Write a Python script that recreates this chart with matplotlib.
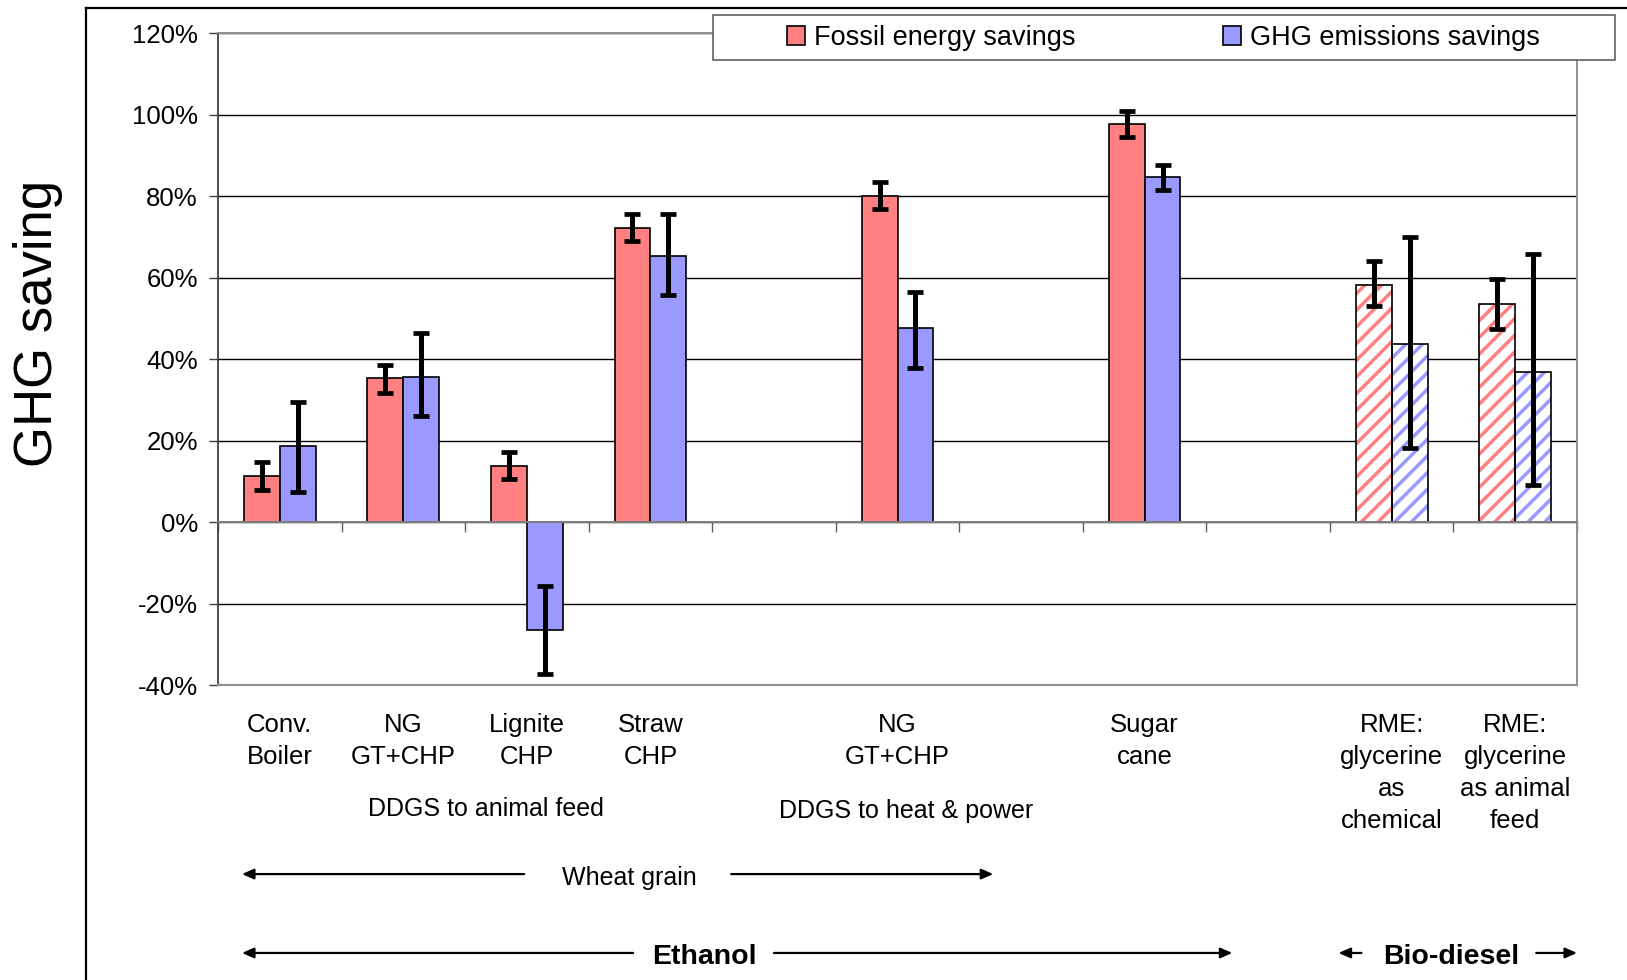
import numpy as np
import matplotlib
matplotlib.use('Agg')
import matplotlib.pyplot as plt
import matplotlib.transforms as mtransforms
from matplotlib.patches import Rectangle
from matplotlib.lines import Line2D

plt.rcParams['font.family'] = ['Liberation Sans', 'DejaVu Sans']
plt.rcParams['hatch.linewidth'] = 2.5

# categories (empty strings are the gaps between groups)
categories = ['Conv.\nBoiler', 'NG\nGT+CHP', 'Lignite\nCHP', 'Straw\nCHP', '',
              'NG\nGT+CHP', '', 'Sugar\ncane', '',
              'RME:\nglycerine\nas\nchemical', 'RME:\nglycerine\nas animal\nfeed']
nan = np.nan
fossil = [11.4, 35.3, 13.8, 72.2, nan, 80.0, nan, 97.6, nan, 58.2, 53.4]
fossil_low = [7.9, 31.6, 10.6, 68.9, nan, 76.9, nan, 94.4, nan, 53.0, 47.4]
fossil_high = [14.7, 38.6, 17.1, 75.6, nan, 83.4, nan, 100.9, nan, 64.0, 59.6]
ghg = [18.6, 35.7, -26.6, 65.3, nan, 47.5, nan, 84.6, nan, 43.7, 36.8]
ghg_low = [7.3, 25.9, -37.3, 55.6, nan, 37.7, nan, 81.4, nan, 18.2, 9.0]
ghg_high = [29.4, 46.3, -15.8, 75.5, nan, 56.4, nan, 87.6, nan, 70.0, 65.7]
yticks = [-40, -20, 0, 20, 40, 60, 80, 100, 120]
series_names = ['Fossil energy savings', 'GHG emissions savings']

# styling
red = '#FF8080'
blue = '#9999FF'
hatched = [9, 10]  # RME bars drawn with stripes
w = 0.29

fig = plt.figure(figsize=(16.27, 9.80), dpi=100)
ax = fig.add_axes([218 / 1627, 1 - 685 / 980, (1577 - 218) / 1627, (685 - 33) / 980])

x = np.arange(len(categories))
trans = mtransforms.blended_transform_factory(ax.transData, ax.transAxes)


def draw_series(vals, low, high, offset, color):
    vals = np.array(vals)
    low = np.array(low)
    high = np.array(high)
    ok = ~np.isnan(vals)
    xs = x[ok] + offset
    bars = ax.bar(xs, vals[ok], w, color=color, edgecolor='black', linewidth=1.2, zorder=2)
    for idx, b in zip(x[ok], bars):
        if idx in hatched:
            b.set_facecolor('white')
            b.set_edgecolor(color)
            b.set_hatch('//')
            b.set_linewidth(0)
            ax.bar(b.get_x() + w / 2, b.get_height(), w, fill=False,
                   edgecolor='black', linewidth=1.2, zorder=2.5)
    ax.errorbar(xs, vals[ok], yerr=[vals[ok] - low[ok], high[ok] - vals[ok]],
                fmt='none', ecolor='black', elinewidth=3.6, capsize=6, capthick=3.4, zorder=3)


draw_series(fossil, fossil_low, fossil_high, -w / 2, red)
draw_series(ghg, ghg_low, ghg_high, w / 2, blue)

ax.set_xlim(-0.5, len(categories) - 0.5)
ax.set_ylim(-40, 120)
ax.set_yticks(yticks)
ax.set_yticklabels([f'{v}%' for v in yticks], fontsize=18.5)
ax.set_xticks(np.arange(-0.5, len(categories)))
ax.set_xticklabels([])
ax.tick_params(axis='y', direction='out', length=6.5, width=1, pad=8, color='#404040')
ax.tick_params(axis='x', direction='out', length=7, width=1, color='#606060')
ax.yaxis.grid(True, color='black', linewidth=1)
ax.set_axisbelow(True)

ax.spines['bottom'].set_position(('data', 0))
ax.spines['bottom'].set_color('#808080')
ax.spines['bottom'].set_linewidth(1.4)
ax.spines['left'].set_color('#404040')
ax.spines['left'].set_linewidth(1.3)
ax.spines['right'].set_color('#909090')
ax.spines['right'].set_linewidth(1.4)
ax.spines['top'].set_color('#909090')
ax.spines['top'].set_linewidth(1.4)
ax.plot([0, 1], [0, 0], transform=ax.transAxes, color='#909090', lw=1.6,
        clip_on=False, zorder=4)

# category labels
for i, lab in enumerate(categories):
    ax.text(i, -0.0425, lab, transform=trans, ha='center', va='top',
            fontsize=18.5, linespacing=1.42)

ax.text(1.67, -0.19, 'DDGS to animal feed', transform=trans, ha='center', va='center', fontsize=18)
ax.text(5.07, -0.193, 'DDGS to heat & power', transform=trans, ha='center', va='center', fontsize=18)
ax.text(2.83, -0.296, 'Wheat grain', transform=trans, ha='center', va='center', fontsize=18)
ax.text(3.44, -0.417, 'Ethanol', transform=trans, ha='center', va='center',
        fontsize=20.5, fontweight='bold')
ax.text(9.48, -0.417, 'Bio-diesel', transform=trans, ha='center', va='center',
        fontsize=20.5, fontweight='bold')


def arrow(x0, x1, y):
    ax.annotate('', xy=(x1, y), xytext=(x0, y), xycoords=trans, textcoords=trans,
                arrowprops=dict(arrowstyle='-|>,head_length=0.5,head_width=0.22',
                                color='black', lw=1.6, mutation_scale=14,
                                shrinkA=0, shrinkB=0),
                annotation_clip=False)


arrow(1.978, -0.306, -0.290)
arrow(3.654, 5.775, -0.290)
arrow(2.86, -0.306, -0.411)
arrow(4.0, 7.71, -0.411)
arrow(8.755, 8.57, -0.411)
arrow(10.17, 10.5, -0.411)

# y label
fig.text(38.5 / 1627, 1 - 323 / 980, 'GHG saving', rotation=90, fontsize=38,
         ha='center', va='center')

# outer frame
fig.add_artist(Line2D([86 / 1627, 86 / 1627], [0, 1 - 8 / 980], color='black', lw=1.6,
                      transform=fig.transFigure))
fig.add_artist(Line2D([86 / 1627, 1], [1 - 8 / 980, 1 - 8 / 980], color='black', lw=1.6,
                      transform=fig.transFigure))

# legend
fig.add_artist(Rectangle((713 / 1627, 1 - 60 / 980), (1615 - 713) / 1627, 45 / 980,
                         transform=fig.transFigure, facecolor='white',
                         edgecolor='#606060', lw=1.2, zorder=4))
handles = [Rectangle((0, 0), 1, 1, facecolor=red, edgecolor='black', lw=1.2),
           Rectangle((0, 0), 1, 1, facecolor=blue, edgecolor='black', lw=1.2)]
leg = fig.legend(handles, series_names, loc='center left',
                 bbox_to_anchor=(787 / 1627, 1 - 38 / 980), ncol=2, frameon=False,
                 fontsize=19.5, handlelength=0.65, handleheight=0.65,
                 handletextpad=0.35, columnspacing=5.45, borderpad=0, borderaxespad=0)
leg.set_zorder(5)

fig.savefig('out.png', dpi=100)
